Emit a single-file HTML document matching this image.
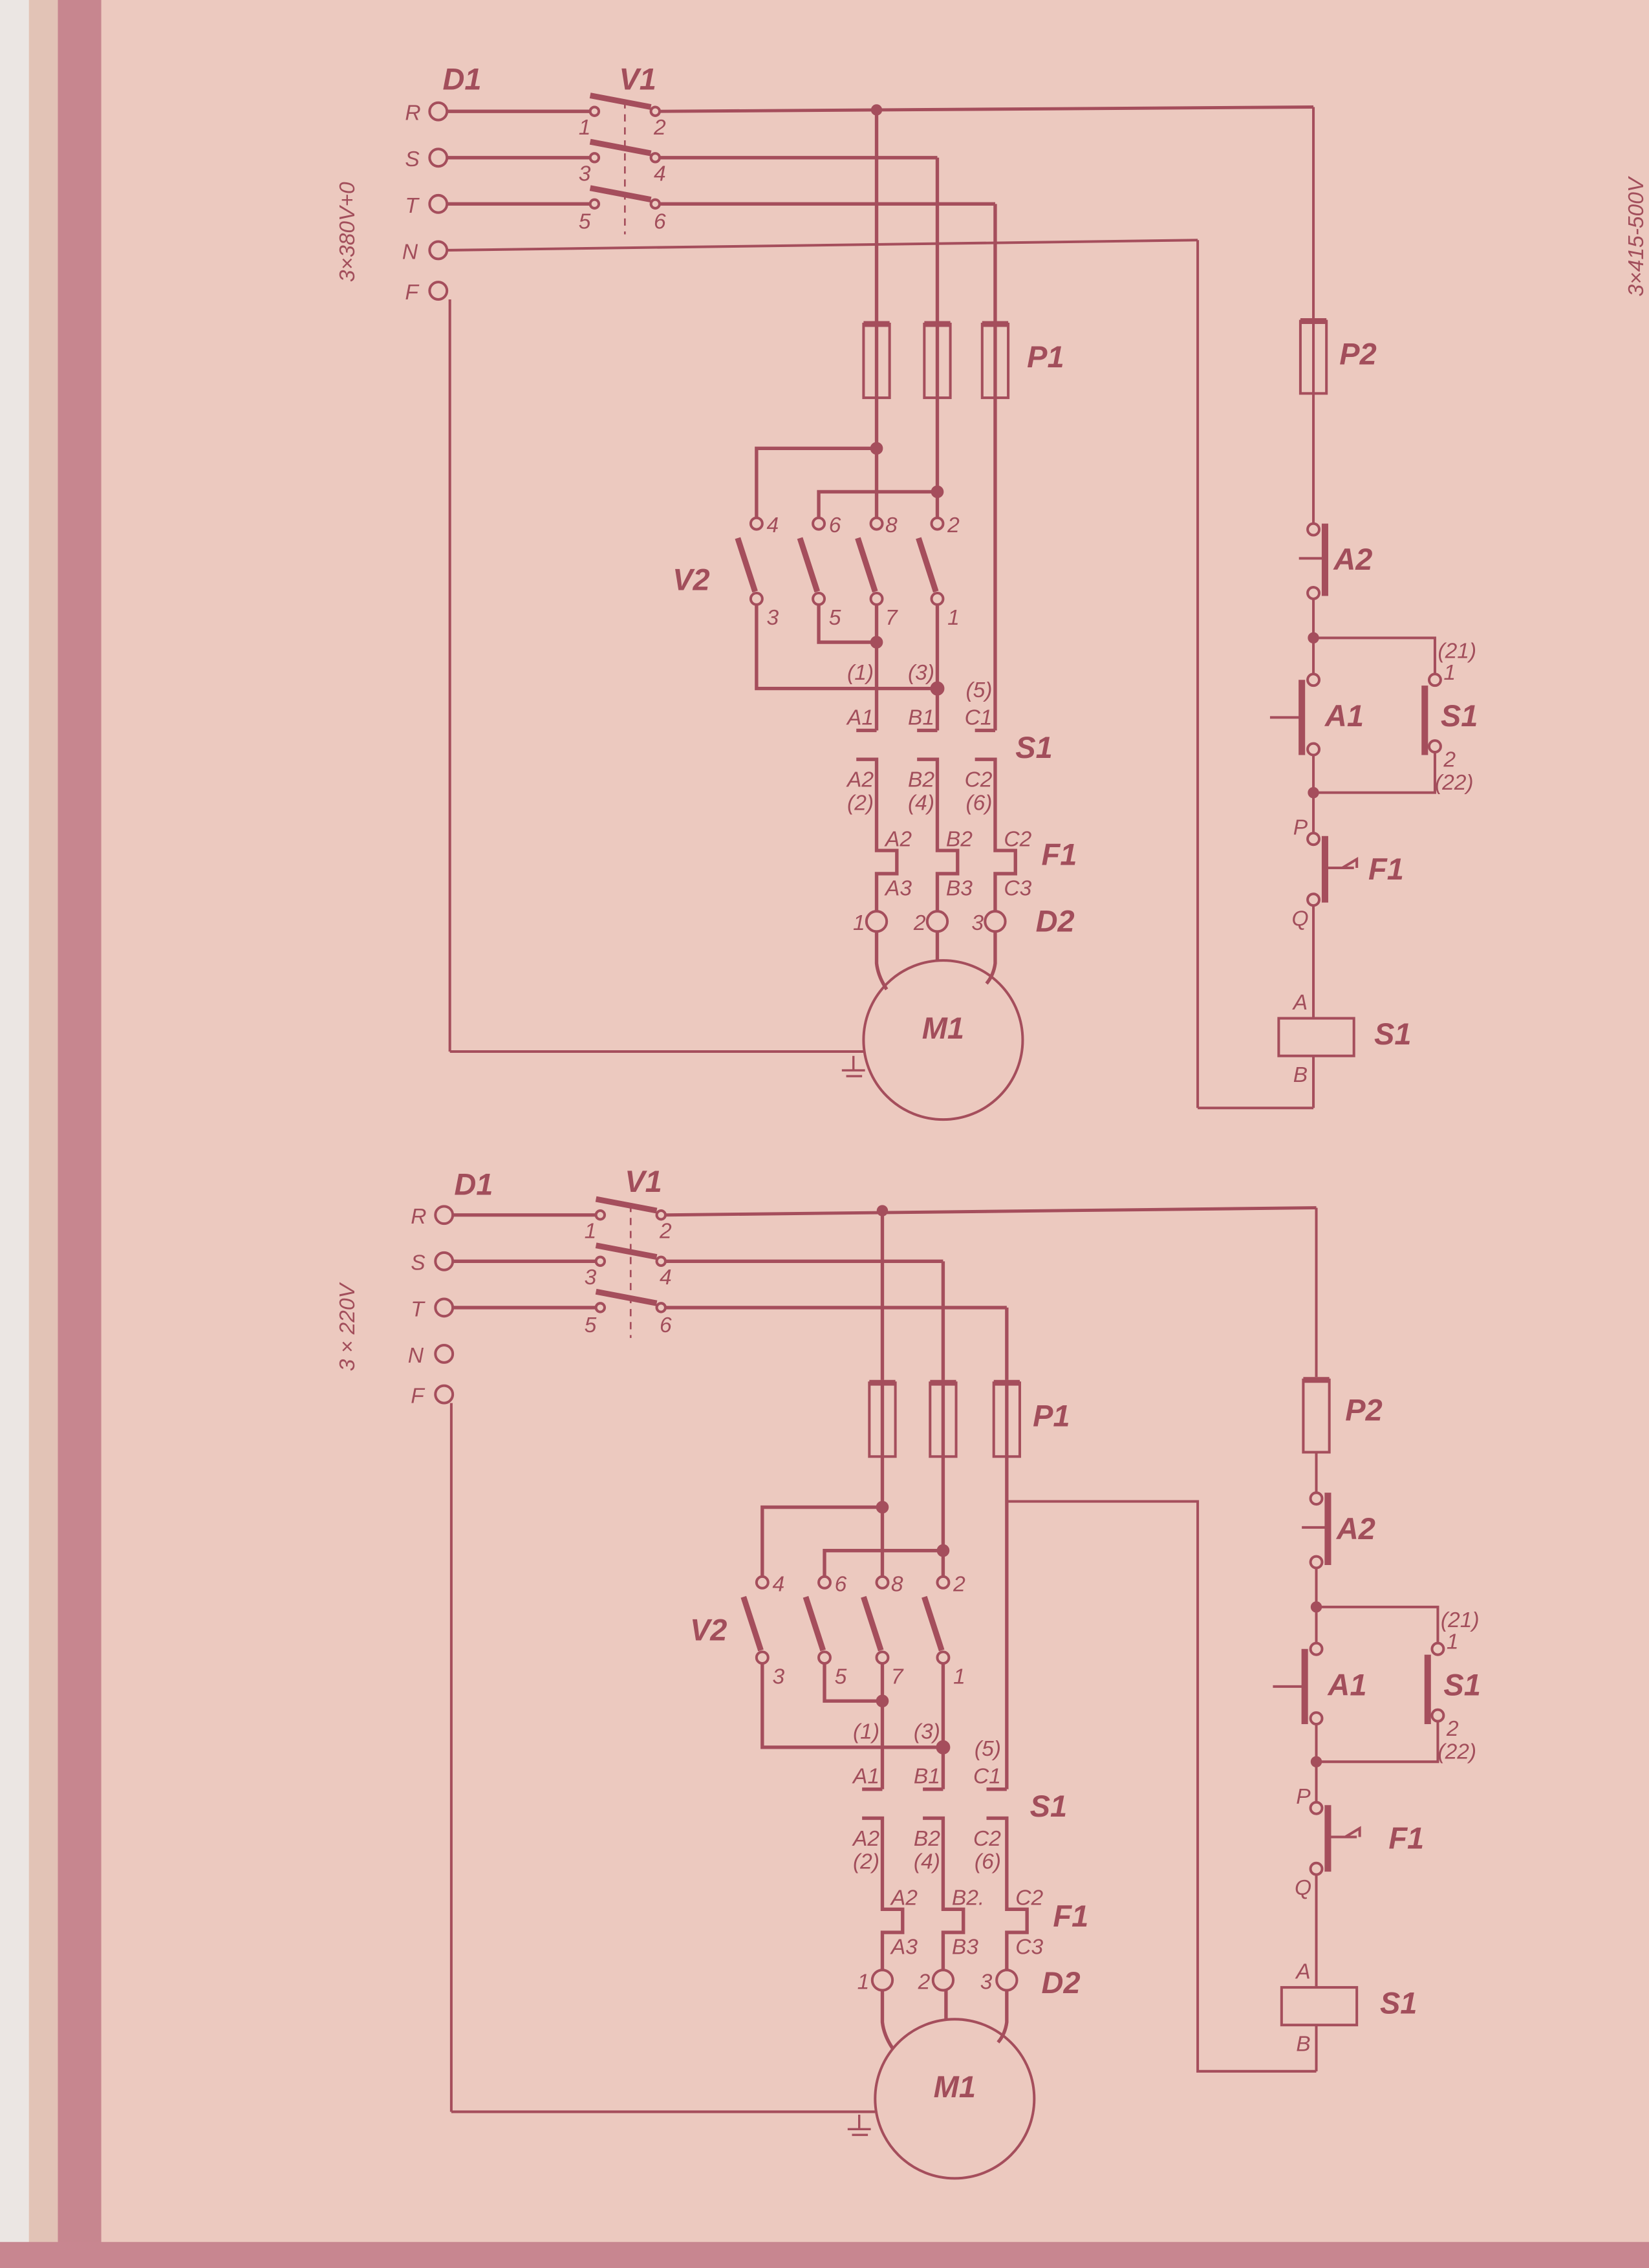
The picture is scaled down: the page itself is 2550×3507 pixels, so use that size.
<!DOCTYPE html>
<html><head><meta charset="utf-8"><style>
html,body{margin:0;padding:0;background:#ecc9bf}
svg{display:block}
text{font-family:"Liberation Sans",sans-serif;font-style:italic;fill:#a24e5b}
.s{font-size:15px}.b{font-size:21px;font-weight:bold}
</style></head><body>
<svg width="2550" height="3507" viewBox="0 0 1140 1568" preserveAspectRatio="none" xmlns="http://www.w3.org/2000/svg">
<rect width="1140" height="1568" fill="#ecc9bf"/>
<rect x="0" y="0" width="22" height="1568" fill="#ebe6e3"/>
<rect x="20" y="0" width="28" height="1568" fill="#e2c3b6"/>
<rect x="40" y="0" width="30" height="1568" fill="#c7868f"/>
<rect x="0" y="1550" width="1140" height="18" fill="#c88690"/>
<g stroke="#a54e5c" stroke-width="1.8" fill="none">
<g id="top">
<circle cx="303" cy="77" r="6"/><circle cx="303" cy="109" r="6"/><circle cx="303" cy="141" r="6"/><circle cx="303" cy="173" r="6"/><circle cx="303" cy="201" r="6"/>
<line x1="309" y1="77" x2="408" y2="77" stroke-width="2.4"/><line x1="309" y1="109" x2="408" y2="109" stroke-width="2.4"/><line x1="309" y1="141" x2="408" y2="141" stroke-width="2.4"/>
<line x1="309" y1="173" x2="828" y2="166"/>
<circle cx="411" cy="77" r="3"/><circle cx="411" cy="109" r="3"/><circle cx="411" cy="141" r="3"/>
<circle cx="453" cy="77" r="3"/><circle cx="453" cy="109" r="3"/><circle cx="453" cy="141" r="3"/>
<g stroke-width="4"><line x1="408" y1="66" x2="450" y2="74"/><line x1="408" y1="98" x2="450" y2="106"/><line x1="408" y1="130" x2="450" y2="138"/></g>
<line x1="432" y1="70" x2="432" y2="162" stroke-dasharray="5,4" stroke-width="1.2"/>
<line x1="456" y1="77" x2="908" y2="74" stroke-width="2.2"/>
<line x1="456" y1="109" x2="648" y2="109" stroke-width="2.4"/>
<line x1="456" y1="141" x2="688" y2="141" stroke-width="2.4"/>
<circle cx="606" cy="76" r="3" fill="#a54e5c"/>
<line x1="311" y1="207" x2="311" y2="727"/><line x1="311" y1="727" x2="598" y2="727"/>
<line x1="828" y1="166" x2="828" y2="766"/><line x1="828" y1="766" x2="908" y2="766"/>
<line x1="606" y1="76" x2="606" y2="222" stroke-width="2.4"/><line x1="648" y1="109" x2="648" y2="222" stroke-width="2.4"/><line x1="688" y1="141" x2="688" y2="222" stroke-width="2.4"/>
<line x1="908" y1="74" x2="908" y2="220"/>
<rect x="899" y="222" width="18" height="50"/><line x1="899" y1="222" x2="917" y2="222" stroke-width="4"/><line x1="908" y1="222" x2="908" y2="272"/>
<line x1="908" y1="272" x2="908" y2="362"/>
</g>
<g id="pwr">
<rect x="597" y="224" width="18" height="51"/><line x1="597" y1="224" x2="615" y2="224" stroke-width="4"/>
<rect x="639" y="224" width="18" height="51"/><line x1="639" y1="224" x2="657" y2="224" stroke-width="4"/>
<rect x="679" y="224" width="18" height="51"/><line x1="679" y1="224" x2="697" y2="224" stroke-width="4"/>
<g stroke-width="2.4">
<line x1="606" y1="222" x2="606" y2="358"/><line x1="648" y1="222" x2="648" y2="358"/><line x1="688" y1="222" x2="688" y2="505"/>
<polyline points="606,310 523,310 523,358"/><polyline points="648,340 566,340 566,358"/>
<line x1="606" y1="418" x2="606" y2="505"/><line x1="648" y1="418" x2="648" y2="505"/>
<polyline points="566,418 566,444 606,444"/><polyline points="523,418 523,476 648,476"/>
</g>
<circle cx="606" cy="310" r="3.5" fill="#a54e5c"/><circle cx="648" cy="340" r="3.5" fill="#a54e5c"/><circle cx="606" cy="444" r="3.5" fill="#a54e5c"/><circle cx="648" cy="476" r="4" fill="#a54e5c"/>
<circle cx="523" cy="362" r="4"/><circle cx="566" cy="362" r="4"/><circle cx="606" cy="362" r="4"/><circle cx="648" cy="362" r="4"/>
<circle cx="523" cy="414" r="4"/><circle cx="566" cy="414" r="4"/><circle cx="606" cy="414" r="4"/><circle cx="648" cy="414" r="4"/>
<g stroke-width="4"><line x1="510" y1="372" x2="522" y2="409"/><line x1="553" y1="372" x2="565" y2="409"/><line x1="593" y1="372" x2="605" y2="409"/><line x1="635" y1="372" x2="647" y2="409"/></g>
<g stroke-width="2.4">
<polyline points="592,505 606,505"/><polyline points="634,505 648,505"/><polyline points="674,505 688,505"/>
<polyline points="592,525 606,525 606,588 620,588 620,604 606,604 606,630"/>
<polyline points="634,525 648,525 648,588 662,588 662,604 648,604 648,630"/>
<polyline points="674,525 688,525 688,588 702,588 702,604 688,604 688,630"/>
</g>
<circle cx="606" cy="637" r="7"/><circle cx="648" cy="637" r="7"/><circle cx="688" cy="637" r="7"/>
<g stroke-width="2.4"><path d="M606,644 L606,666 Q607,675 613,684"/><line x1="648" y1="644" x2="648" y2="664"/><path d="M688,644 L688,666 Q687,674 682,680"/></g>
<circle cx="652" cy="719" r="55"/>
<g stroke-width="1.5"><line x1="590" y1="730" x2="590" y2="740"/><line x1="582" y1="740" x2="598" y2="740"/><line x1="585" y1="744" x2="596" y2="744"/></g>
</g>
<g id="ctl">
<circle cx="908" cy="366" r="4"/><circle cx="908" cy="410" r="4"/>
<line x1="916" y1="362" x2="916" y2="412" stroke-width="4.5"/><line x1="898" y1="386" x2="916" y2="386"/>
<line x1="908" y1="414" x2="908" y2="466"/><circle cx="908" cy="441" r="3" fill="#a54e5c"/>
<polyline points="908,441 992,441 992,466"/><circle cx="992" cy="470" r="4"/><circle cx="992" cy="516" r="4"/>
<line x1="985" y1="474" x2="985" y2="522" stroke-width="4.5"/>
<polyline points="992,520 992,548 908,548"/>
<circle cx="908" cy="470" r="4"/><circle cx="908" cy="518" r="4"/>
<line x1="900" y1="470" x2="900" y2="522" stroke-width="4.5"/><line x1="878" y1="496" x2="900" y2="496"/>
<line x1="908" y1="522" x2="908" y2="576"/><circle cx="908" cy="548" r="3" fill="#a54e5c"/>
<circle cx="908" cy="580" r="4"/><circle cx="908" cy="622" r="4"/>
<line x1="916" y1="578" x2="916" y2="624" stroke-width="4.5"/>
<polyline points="916,600 936,600"/><polyline points="928,600 938,594 938,600"/>
<line x1="908" y1="626" x2="908" y2="704"/>
<rect x="884" y="704" width="52" height="26"/>
<polyline points="908,730 908,766"/>
</g>
<g transform="translate(4,763)">
<circle cx="303" cy="77" r="6"/><circle cx="303" cy="109" r="6"/><circle cx="303" cy="141" r="6"/><circle cx="303" cy="173" r="6"/><circle cx="303" cy="201" r="6"/>
<line x1="309" y1="77" x2="408" y2="77" stroke-width="2.4"/><line x1="309" y1="109" x2="408" y2="109" stroke-width="2.4"/><line x1="309" y1="141" x2="408" y2="141" stroke-width="2.4"/>
<circle cx="411" cy="77" r="3"/><circle cx="411" cy="109" r="3"/><circle cx="411" cy="141" r="3"/>
<circle cx="453" cy="77" r="3"/><circle cx="453" cy="109" r="3"/><circle cx="453" cy="141" r="3"/>
<g stroke-width="4"><line x1="408" y1="66" x2="450" y2="74"/><line x1="408" y1="98" x2="450" y2="106"/><line x1="408" y1="130" x2="450" y2="138"/></g>
<line x1="432" y1="70" x2="432" y2="162" stroke-dasharray="5,4" stroke-width="1.2"/>
<line x1="456" y1="77" x2="906" y2="72" stroke-width="2.2"/>
<line x1="456" y1="109" x2="648" y2="109" stroke-width="2.4"/>
<line x1="456" y1="141" x2="692" y2="141" stroke-width="2.4"/>
<circle cx="606" cy="74" r="3" fill="#a54e5c"/>
<line x1="606" y1="74" x2="606" y2="191" stroke-width="2.4"/><line x1="648" y1="109" x2="648" y2="191" stroke-width="2.4"/><line x1="692" y1="141" x2="692" y2="191" stroke-width="2.4"/>
</g>
<line x1="312" y1="970" x2="312" y2="1460"/><line x1="312" y1="1460" x2="605" y2="1460"/>
<line x1="910" y1="835" x2="910" y2="952"/>
<g transform="translate(2,732)"><rect x="899" y="222" width="18" height="50"/><line x1="899" y1="222" x2="917" y2="222" stroke-width="4"/></g>
<line x1="910" y1="1004" x2="910" y2="1032"/>
<polyline points="697,1038 828,1038 828,1432 910,1432"/>
<g transform="translate(4,732)">
<rect x="597" y="224" width="18" height="51"/><line x1="597" y1="224" x2="615" y2="224" stroke-width="4"/>
<rect x="639" y="224" width="18" height="51"/><line x1="639" y1="224" x2="657" y2="224" stroke-width="4"/>
<rect x="683" y="224" width="18" height="51"/><line x1="683" y1="224" x2="701" y2="224" stroke-width="4"/>
<g stroke-width="2.4">
<line x1="606" y1="222" x2="606" y2="358"/><line x1="648" y1="222" x2="648" y2="358"/><line x1="692" y1="222" x2="692" y2="505"/>
<polyline points="606,310 523,310 523,358"/><polyline points="648,340 566,340 566,358"/>
<line x1="606" y1="418" x2="606" y2="505"/><line x1="648" y1="418" x2="648" y2="505"/>
<polyline points="566,418 566,444 606,444"/><polyline points="523,418 523,476 648,476"/>
</g>
<circle cx="606" cy="310" r="3.5" fill="#a54e5c"/><circle cx="648" cy="340" r="3.5" fill="#a54e5c"/><circle cx="606" cy="444" r="3.5" fill="#a54e5c"/><circle cx="648" cy="476" r="4" fill="#a54e5c"/>
<circle cx="523" cy="362" r="4"/><circle cx="566" cy="362" r="4"/><circle cx="606" cy="362" r="4"/><circle cx="648" cy="362" r="4"/>
<circle cx="523" cy="414" r="4"/><circle cx="566" cy="414" r="4"/><circle cx="606" cy="414" r="4"/><circle cx="648" cy="414" r="4"/>
<g stroke-width="4"><line x1="510" y1="372" x2="522" y2="409"/><line x1="553" y1="372" x2="565" y2="409"/><line x1="593" y1="372" x2="605" y2="409"/><line x1="635" y1="372" x2="647" y2="409"/></g>
<g stroke-width="2.4">
<polyline points="592,505 606,505"/><polyline points="634,505 648,505"/><polyline points="678,505 692,505"/>
<polyline points="592,525 606,525 606,588 620,588 620,604 606,604 606,630"/>
<polyline points="634,525 648,525 648,588 662,588 662,604 648,604 648,630"/>
<polyline points="678,525 692,525 692,588 706,588 706,604 692,604 692,630"/>
</g>
<circle cx="606" cy="637" r="7"/><circle cx="648" cy="637" r="7"/><circle cx="692" cy="637" r="7"/>
<g stroke-width="2.4"><path d="M606,644 L606,666 Q607,675 613,684"/><line x1="650" y1="644" x2="650" y2="664"/><path d="M692,644 L692,666 Q691,674 686,680"/></g>
<circle cx="656" cy="719" r="55"/>
<g stroke-width="1.5"><line x1="590" y1="730" x2="590" y2="740"/><line x1="582" y1="740" x2="598" y2="740"/><line x1="585" y1="744" x2="596" y2="744"/></g>
</g>
<g transform="translate(2,670)">
<circle cx="908" cy="366" r="4"/><circle cx="908" cy="410" r="4"/>
<line x1="916" y1="362" x2="916" y2="412" stroke-width="4.5"/><line x1="898" y1="386" x2="916" y2="386"/>
<line x1="908" y1="414" x2="908" y2="466"/><circle cx="908" cy="441" r="3" fill="#a54e5c"/>
<polyline points="908,441 992,441 992,466"/><circle cx="992" cy="470" r="4"/><circle cx="992" cy="516" r="4"/>
<line x1="985" y1="474" x2="985" y2="522" stroke-width="4.5"/>
<polyline points="992,520 992,548 908,548"/>
<circle cx="908" cy="470" r="4"/><circle cx="908" cy="518" r="4"/>
<line x1="900" y1="470" x2="900" y2="522" stroke-width="4.5"/><line x1="878" y1="496" x2="900" y2="496"/>
<line x1="908" y1="522" x2="908" y2="576"/><circle cx="908" cy="548" r="3" fill="#a54e5c"/>
<circle cx="908" cy="580" r="4"/><circle cx="908" cy="622" r="4"/>
<line x1="916" y1="578" x2="916" y2="624" stroke-width="4.5"/>
<polyline points="916,600 936,600"/><polyline points="928,600 938,594 938,600"/>
<line x1="908" y1="626" x2="908" y2="704"/>
<rect x="884" y="704" width="52" height="26"/>
<polyline points="908,730 908,762"/>
</g>
</g>
<g>
<text class="b" x="306" y="62">D1</text><text class="b" x="428" y="62">V1</text>
<text class="s" x="280" y="83">R</text><text class="s" x="280" y="115">S</text><text class="s" x="280" y="147">T</text><text class="s" x="278" y="179">N</text><text class="s" x="280" y="207">F</text>
<text class="s" x="400" y="93">1</text><text class="s" x="452" y="93">2</text><text class="s" x="400" y="125">3</text><text class="s" x="452" y="125">4</text><text class="s" x="400" y="158">5</text><text class="s" x="452" y="158">6</text>
<text class="s" transform="translate(245,195) rotate(-90)">3×380V+0</text>
<text class="s" transform="translate(1136,205) rotate(-90)">3×415-500V</text>
<text class="b" x="710" y="254">P1</text><text class="b" x="926" y="252">P2</text>
<text class="b" x="465" y="408">V2</text>
<text class="s" x="530" y="368">4</text><text class="s" x="573" y="368">6</text><text class="s" x="612" y="368">8</text><text class="s" x="655" y="368">2</text>
<text class="s" x="530" y="432">3</text><text class="s" x="573" y="432">5</text><text class="s" x="612" y="432">7</text><text class="s" x="655" y="432">1</text>
<g text-anchor="end">
<text class="s" x="604" y="470">(1)</text><text class="s" x="646" y="470">(3)</text><text class="s" x="686" y="482">(5)</text>
<text class="s" x="604" y="501">A1</text><text class="s" x="646" y="501">B1</text><text class="s" x="686" y="501">C1</text>
<text class="s" x="604" y="544">A2</text><text class="s" x="646" y="544">B2</text><text class="s" x="686" y="544">C2</text>
<text class="s" x="604" y="560">(2)</text><text class="s" x="646" y="560">(4)</text><text class="s" x="686" y="560">(6)</text>
<text class="s" x="598" y="643">1</text><text class="s" x="640" y="643">2</text><text class="s" x="680" y="643">3</text>
</g>
<text class="s" x="612" y="585">A2</text><text class="s" x="654" y="585">B2</text><text class="s" x="694" y="585">C2</text>
<text class="s" x="612" y="619">A3</text><text class="s" x="654" y="619">B3</text><text class="s" x="694" y="619">C3</text>
<text class="b" x="702" y="524">S1</text><text class="b" x="720" y="598">F1</text><text class="b" x="716" y="644">D2</text>
<text class="b" x="652" y="718" text-anchor="middle">M1</text>
<text class="b" x="922" y="394">A2</text><text class="b" x="916" y="502">A1</text><text class="b" x="996" y="502">S1</text>
<text class="s" x="994" y="455">(21)</text><text class="s" x="998" y="470">1</text><text class="s" x="998" y="530">2</text><text class="s" x="992" y="546">(22)</text>
<text class="s" x="894" y="577">P</text><text class="b" x="946" y="608">F1</text><text class="s" x="893" y="640">Q</text>
<text class="s" x="894" y="698">A</text><text class="b" x="950" y="722">S1</text><text class="s" x="894" y="748">B</text>
</g>
<g>
<text class="b" x="314" y="826">D1</text><text class="b" x="432" y="824">V1</text>
<text class="s" x="284" y="846">R</text><text class="s" x="284" y="878">S</text><text class="s" x="284" y="910">T</text><text class="s" x="282" y="942">N</text><text class="s" x="284" y="970">F</text>
<text class="s" x="404" y="856">1</text><text class="s" x="456" y="856">2</text><text class="s" x="404" y="888">3</text><text class="s" x="456" y="888">4</text><text class="s" x="404" y="921">5</text><text class="s" x="456" y="921">6</text>
<text class="s" transform="translate(245,948) rotate(-90)">3 × 220V</text>
<text class="b" x="714" y="986">P1</text><text class="b" x="930" y="982">P2</text>
<text class="b" x="477" y="1134">V2</text>
<text class="s" x="534" y="1100">4</text><text class="s" x="577" y="1100">6</text><text class="s" x="616" y="1100">8</text><text class="s" x="659" y="1100">2</text>
<text class="s" x="534" y="1164">3</text><text class="s" x="577" y="1164">5</text><text class="s" x="616" y="1164">7</text><text class="s" x="659" y="1164">1</text>
<g text-anchor="end">
<text class="s" x="608" y="1202">(1)</text><text class="s" x="650" y="1202">(3)</text><text class="s" x="692" y="1214">(5)</text>
<text class="s" x="608" y="1233">A1</text><text class="s" x="650" y="1233">B1</text><text class="s" x="692" y="1233">C1</text>
<text class="s" x="608" y="1276">A2</text><text class="s" x="650" y="1276">B2</text><text class="s" x="692" y="1276">C2</text>
<text class="s" x="608" y="1292">(2)</text><text class="s" x="650" y="1292">(4)</text><text class="s" x="692" y="1292">(6)</text>
<text class="s" x="601" y="1375">1</text><text class="s" x="643" y="1375">2</text><text class="s" x="686" y="1375">3</text>
</g>
<text class="s" x="616" y="1317">A2</text><text class="s" x="658" y="1317">B2.</text><text class="s" x="702" y="1317">C2</text>
<text class="s" x="616" y="1351">A3</text><text class="s" x="658" y="1351">B3</text><text class="s" x="702" y="1351">C3</text>
<text class="b" x="712" y="1256">S1</text><text class="b" x="728" y="1332">F1</text><text class="b" x="720" y="1378">D2</text>
<text class="b" x="660" y="1450" text-anchor="middle">M1</text>
<text class="b" x="924" y="1064">A2</text><text class="b" x="918" y="1172">A1</text><text class="b" x="998" y="1172">S1</text>
<text class="s" x="996" y="1125">(21)</text><text class="s" x="1000" y="1140">1</text><text class="s" x="1000" y="1200">2</text><text class="s" x="994" y="1216">(22)</text>
<text class="s" x="896" y="1247">P</text><text class="b" x="960" y="1278">F1</text><text class="s" x="895" y="1310">Q</text>
<text class="s" x="896" y="1368">A</text><text class="b" x="954" y="1392">S1</text><text class="s" x="896" y="1418">B</text>
</g>
</svg>
</body></html>
